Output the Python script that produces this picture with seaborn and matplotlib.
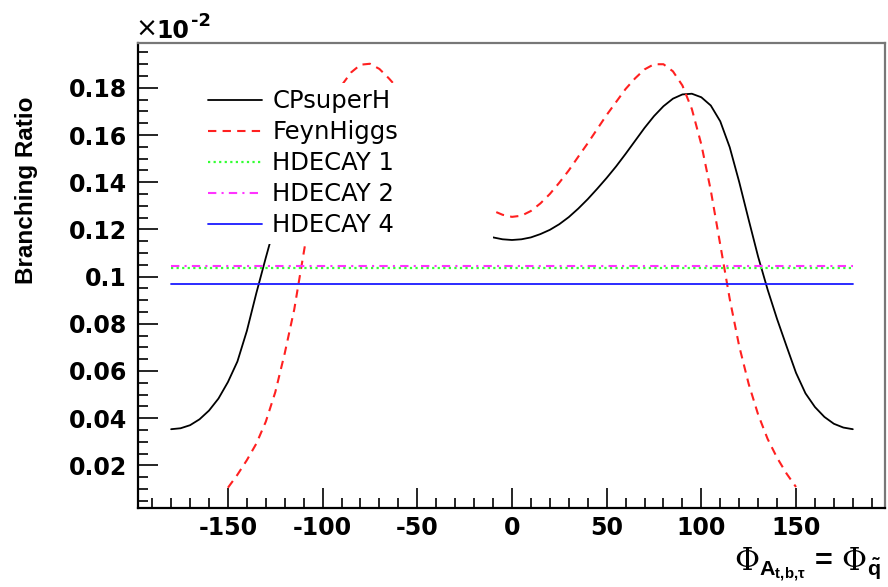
import matplotlib
matplotlib.use("Agg")
from matplotlib import pyplot as plt
from matplotlib.patches import Rectangle
from matplotlib.ticker import MultipleLocator, FuncFormatter
import seaborn as sns
import pandas as pd

# phase (degrees)
phi_cp = [-180, -175, -170, -165, -160, -155, -150, -145, -140, -135, -130, -125,
          -120, -115, -110, -105, -100, -95, -90, -85, -80, -75, -70, -65, -60,
          -55, -50, -45, -40, -35, -30, -25, -20, -15, -10, -5,
          0, 5, 10, 15, 20, 25, 30, 35, 40, 45, 50, 55, 60, 65, 70, 75, 80, 85,
          90, 95, 100, 105, 110, 115, 120, 125, 130, 135, 140, 145, 150, 155,
          160, 165, 170, 175, 180]
br_cpsuperh = [0.0353, 0.0357, 0.0370, 0.0395, 0.0432, 0.0483, 0.0553, 0.0640,
               0.0770, 0.0930, 0.1080, 0.1225, 0.1390, 0.1545, 0.1655, 0.1722,
               0.1757, 0.1773, 0.1772, 0.1754, 0.1722, 0.1680, 0.1630, 0.1575,
               0.1520, 0.1467, 0.1418, 0.1372, 0.1328, 0.1288, 0.1252, 0.1222,
               0.1198, 0.1180, 0.1166, 0.1158,
               0.1155, 0.1158, 0.1166, 0.1180, 0.1198, 0.1222, 0.1252, 0.1288,
               0.1328, 0.1372, 0.1418, 0.1467, 0.1520, 0.1575, 0.1630, 0.1680,
               0.1722, 0.1754, 0.1772, 0.1775, 0.1760, 0.1725, 0.1658, 0.1548,
               0.1401, 0.1241, 0.1084, 0.0945, 0.0820, 0.0705, 0.0592, 0.0505,
               0.0447, 0.0405, 0.0376, 0.0360, 0.0353]

phi_fh = [-150, -145, -140, -135, -130, -125, -120, -115, -110, -105, -100, -95,
          -90, -85, -80, -75, -70, -65, -60, -55, -50, -45, -40, -35, -30, -25,
          -20, -15, -10, -5, 0, 5, 10, 15, 20, 25, 30, 35, 40, 45, 50, 55, 60,
          65, 70, 75, 80, 85, 90, 95, 100, 105, 110, 115, 120, 125, 130, 135,
          140, 145, 150]
br_feynhiggs = [0.0105, 0.0160, 0.0222, 0.0292, 0.0385, 0.0510, 0.0675, 0.0860,
                0.1100, 0.1340, 0.1560, 0.1710, 0.1810, 0.1865, 0.1898, 0.1902,
                0.1880, 0.1840, 0.1795, 0.1740, 0.1685, 0.1625, 0.1565, 0.1510,
                0.1450, 0.1400, 0.1352, 0.1312, 0.1279, 0.1262, 0.1253, 0.1258,
                0.1278, 0.1310, 0.1350, 0.1398, 0.1450, 0.1508, 0.1565, 0.1625,
                0.1685, 0.1740, 0.1795, 0.1840, 0.1878, 0.1900, 0.1900, 0.1870,
                0.1810, 0.1710, 0.1560, 0.1365, 0.1135, 0.0905, 0.0705, 0.0545,
                0.0415, 0.0312, 0.0232, 0.0165, 0.0108]

phi_hd = [-180, 180]
br_hdecay1 = [0.1035, 0.1035]
br_hdecay2 = [0.1044, 0.1044]
br_hdecay4 = [0.0967, 0.0967]

sns.set_style("white")
plt.rcParams["font.family"] = ["DejaVu Sans"]
plt.rcParams["axes.unicode_minus"] = False
plt.rcParams["mathtext.fontset"] = "custom"
plt.rcParams["mathtext.rm"] = "DejaVu Serif"
plt.rcParams["mathtext.bf"] = "Liberation Sans:bold"
plt.rcParams["mathtext.it"] = "Liberation Sans:italic"

fig = plt.figure(figsize=(8.88, 5.87), dpi=100)
ax = fig.add_axes([138 / 888, 1 - 508 / 587, 747 / 888, 465 / 587])

df_cp = pd.DataFrame({"phi": phi_cp, "br": br_cpsuperh})
df_fh = pd.DataFrame({"phi": phi_fh, "br": br_feynhiggs})
df_h1 = pd.DataFrame({"phi": phi_hd, "br": br_hdecay1})
df_h2 = pd.DataFrame({"phi": phi_hd, "br": br_hdecay2})
df_h4 = pd.DataFrame({"phi": phi_hd, "br": br_hdecay4})

sns.lineplot(data=df_cp, x="phi", y="br", ax=ax, color="black", lw=1.3,
             label="CPsuperH", sort=False)
sns.lineplot(data=df_fh, x="phi", y="br", ax=ax, color="#ff2020", lw=1.5,
             linestyle=(0, (4, 3)), label="FeynHiggs", sort=False)
sns.lineplot(data=df_h1, x="phi", y="br", ax=ax, color="#33ff33", lw=1.6,
             linestyle=(0, (1, 1.5)), label="HDECAY 1", sort=False)
sns.lineplot(data=df_h2, x="phi", y="br", ax=ax, color="#ff33ff", lw=1.5,
             linestyle=(0, (4, 2.5, 1, 2.5)), label="HDECAY 2", sort=False)
sns.lineplot(data=df_h4, x="phi", y="br", ax=ax, color="#1a1aff", lw=1.3,
             label="HDECAY 4", sort=False)

ax.set_xlim(-197.5, 197)
ax.set_ylim(0.0019, 0.199)

# white legend pad covering the curves (as in the original)
ax.add_patch(Rectangle((0.075, 0.567), 0.40, 0.348, transform=ax.transAxes,
                       facecolor="white", edgecolor="none", zorder=4))
leg = ax.legend(loc="upper left", bbox_to_anchor=(0.0938, 0.9005), frameon=False,
                fontsize=17.5, handlelength=2.2, handletextpad=0.45,
                labelspacing=0.29, borderpad=0, borderaxespad=0)
leg.set_zorder(5)
for t in leg.get_texts():
    t.set_color("black")

ax.xaxis.set_major_locator(MultipleLocator(50))
ax.xaxis.set_minor_locator(MultipleLocator(10))
ax.yaxis.set_major_locator(MultipleLocator(0.02))
ax.yaxis.set_minor_locator(MultipleLocator(0.005))
ax.xaxis.set_major_formatter(FuncFormatter(lambda v, p: "%g" % v))
ax.yaxis.set_major_formatter(FuncFormatter(lambda v, p: "%g" % round(v, 3)))
ax.tick_params(which="both", direction="in", top=False, right=False,
               left=True, bottom=True, width=1.2, color="black",
               labelcolor="black")
ax.tick_params(which="major", length=14.5)
ax.tick_params(which="minor", length=7.5)
ax.tick_params(axis="x", which="major", pad=6, labelsize=17)
ax.tick_params(axis="y", which="major", pad=8, labelsize=17)
for lab in ax.get_xticklabels() + ax.get_yticklabels():
    lab.set_fontweight("bold")

for s in ["left", "bottom"]:
    ax.spines[s].set_color("black")
    ax.spines[s].set_linewidth(1.6)
for s in ["top", "right"]:
    ax.spines[s].set_color("#777777")
    ax.spines[s].set_linewidth(1.6)

ax.set_xlabel("")
ax.set_ylabel("")
ax.text(-0.149, 0.885, "Branching Ratio", transform=ax.transAxes, rotation=90,
        ha="center", va="top", fontsize=17.5, fontweight="bold",
        family="Liberation Sans", color="black")
# axis multiplier, ROOT style
fig.text(135 / 888, 1 - 37 / 587, "\u00d7", fontsize=19,
         ha="left", va="baseline", color="black")
fig.text(156 / 888, 1 - 38 / 587, "10", fontsize=17, fontweight="bold",
         ha="left", va="baseline", color="black")
fig.text(191 / 888, 1 - 26 / 587, "-2", fontsize=13, fontweight="bold",
         ha="left", va="baseline", color="black")
fig.text(881 / 888, 3 / 587,
         r"$\Phi_{\mathbf{A}_{\mathbf{t{,}b{,}\tau}}}\mathbf{\,=\,}\Phi_{\mathbf{\tilde{q}}}$",
         fontsize=22, ha="right", va="bottom", color="black")

fig.savefig("out.png", dpi=100)
